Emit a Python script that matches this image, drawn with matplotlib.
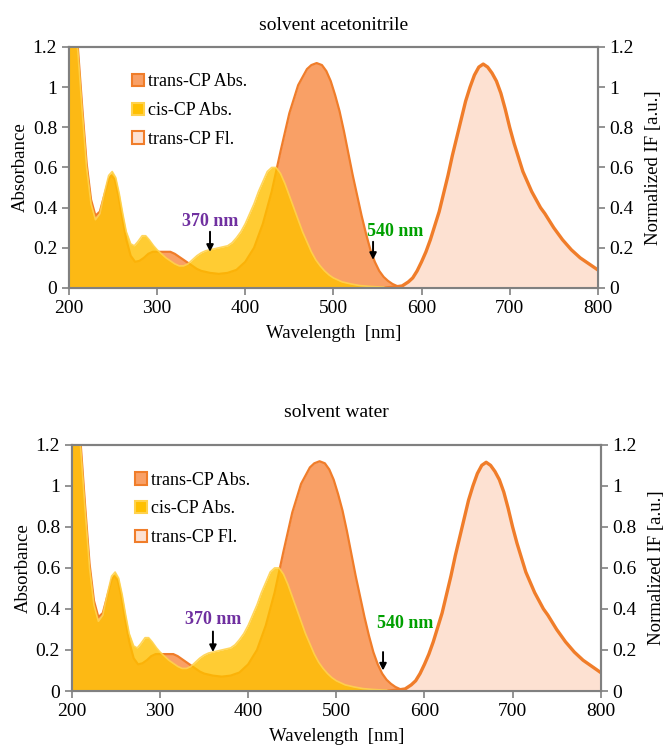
import matplotlib
matplotlib.use("Agg")
import matplotlib.pyplot as plt
from matplotlib.patches import Patch

plt.rcParams['font.family'] = ['Liberation Serif', 'DejaVu Serif']

# ---------------- data ----------------
trans_wl = [200, 205, 210, 215, 220, 225, 230, 235, 240, 245, 248, 252, 256, 260, 265,
            270, 275, 280, 285, 290, 295, 300, 305, 310, 315, 320, 325, 330, 335, 340,
            345, 350, 360, 370, 380, 390, 400, 410, 420, 430, 440, 450, 460, 470, 475,
            481, 487, 492, 497, 502, 507, 512, 517, 522, 527, 532, 537, 542, 547, 552,
            557, 562, 567, 572, 578, 600]
trans_abs = [1.6, 1.45, 1.2, 0.9, 0.62, 0.44, 0.36, 0.38, 0.46, 0.54, 0.56, 0.54, 0.46, 0.36, 0.24,
             0.16, 0.13, 0.135, 0.15, 0.17, 0.18, 0.18, 0.18, 0.18, 0.18, 0.17, 0.155, 0.14, 0.125, 0.11,
             0.095, 0.085, 0.075, 0.07, 0.075, 0.09, 0.13, 0.2, 0.32, 0.48, 0.68, 0.87, 1.01, 1.09, 1.11,
             1.12, 1.11, 1.08, 1.03, 0.96, 0.88, 0.78, 0.67, 0.56, 0.46, 0.36, 0.27, 0.19, 0.13, 0.085,
             0.055, 0.035, 0.02, 0.01, 0.005, 0.0]

cis_wl = [200, 205, 210, 215, 220, 225, 230, 235, 240, 245, 249, 253, 257, 261, 265,
          270, 274, 278, 283, 287, 291, 296, 300, 305, 310, 315, 320, 325, 330, 335,
          340, 345, 350, 355, 360, 370, 380, 385, 390, 395, 400, 405, 410, 415, 420,
          425, 430, 435, 440, 445, 450, 455, 460, 465, 470, 475, 480, 485, 490, 495,
          500, 510, 520, 530, 540, 560, 600]
cis_abs = [1.6, 1.4, 1.18, 0.88, 0.6, 0.42, 0.34, 0.37, 0.47, 0.56, 0.58, 0.55, 0.47, 0.37, 0.28,
           0.22, 0.21, 0.23, 0.26, 0.26, 0.24, 0.21, 0.19, 0.17, 0.15, 0.135, 0.12, 0.11, 0.11, 0.12,
           0.14, 0.16, 0.175, 0.185, 0.19, 0.2, 0.21, 0.225, 0.25, 0.28, 0.32, 0.37, 0.42, 0.48, 0.53,
           0.58, 0.6, 0.6, 0.57, 0.52, 0.46, 0.4, 0.34, 0.28, 0.23, 0.18, 0.14, 0.11, 0.085, 0.065,
           0.05, 0.03, 0.02, 0.012, 0.008, 0.003, 0.0]

fl_wl = [560, 570, 578, 585, 590, 595, 600, 605, 610, 615, 620, 625, 630, 635, 640,
         645, 650, 655, 660, 665, 670, 675, 680, 685, 690, 695, 700, 705, 710, 715,
         720, 725, 730, 735, 740, 750, 760, 770, 780, 790, 800]
fl_int = [0.0, 0.005, 0.01, 0.03, 0.05, 0.085, 0.13, 0.18, 0.24, 0.31, 0.38, 0.47, 0.56, 0.66, 0.75,
          0.84, 0.93, 1.0, 1.06, 1.1, 1.115, 1.1, 1.07, 1.03, 0.97, 0.89, 0.8, 0.72, 0.65, 0.58,
          0.53, 0.48, 0.44, 0.4, 0.37, 0.3, 0.24, 0.19, 0.15, 0.12, 0.09]

panels = [
    # title, title pad, axes rect, 370 arrow (x, tail, tip, text y), 540 arrow (x, tail, tip, text x, text y)
    ("solvent acetonitrile", 12, [0.1036, 0.614, 0.794, 0.323],
     (360, 0.28, 0.18, 0.33), (545, 0.23, 0.14, 538, 0.28)),
    ("solvent water", 20, [0.108, 0.0737, 0.794, 0.33],
     (360, 0.29, 0.19, 0.35), (553, 0.19, 0.10, 546, 0.33)),
]

c_trans_fill = '#F9A066'
c_trans_edge = '#F07D2A'
c_cis_fill = '#FFC000'
c_cis_edge = '#FFD24D'
c_fl_fill = '#FDE1D2'
spine_c = '#808080'

fig = plt.figure(figsize=(6.66, 7.46), dpi=100)

for title, tpad, rect, a370, a540 in panels:
    ax = fig.add_axes(rect)
    ax2 = ax.twinx()

    ax.fill_between(trans_wl, trans_abs, 0, color=c_trans_fill, lw=0, zorder=1)
    ax.plot(trans_wl, trans_abs, color=c_trans_edge, lw=1.6, zorder=2)
    ax.fill_between(cis_wl, cis_abs, 0, color=c_cis_fill, alpha=0.8, lw=0, zorder=3)
    ax.plot(cis_wl, cis_abs, color=c_cis_edge, lw=1.2, alpha=0.9, zorder=4)

    ax2.fill_between(fl_wl, fl_int, 0, color=c_fl_fill, lw=0, zorder=1)
    ax2.plot(fl_wl, fl_int, color=c_trans_edge, lw=2.4, zorder=2)

    for a in (ax, ax2):
        a.set_xlim(200, 800)
        a.set_ylim(0, 1.2)
        for s in a.spines.values():
            s.set_color(spine_c)
            s.set_linewidth(1.5)
        a.tick_params(direction='out', length=5, width=1.2, color=spine_c,
                      labelsize=14, labelcolor='black')

    ax.set_xticks([200, 300, 400, 500, 600, 700, 800])
    ax.set_yticks([0, 0.2, 0.4, 0.6, 0.8, 1.0, 1.2])
    ax.set_yticklabels(['0', '0.2', '0.4', '0.6', '0.8', '1', '1.2'])
    ax2.set_yticks([0, 0.2, 0.4, 0.6, 0.8, 1.0, 1.2])
    ax2.set_yticklabels(['0', '0.2', '0.4', '0.6', '0.8', '1', '1.2'])

    ax.set_xlabel('Wavelength  [nm]', fontsize=13.5, labelpad=6)
    ax.set_ylabel('Absorbance', fontsize=13.5, labelpad=3)
    ax2.set_ylabel('Normalized IF [a.u.]', fontsize=13.5, labelpad=8)
    ax.set_title(title, fontsize=14, pad=tpad)

    arrow_style = dict(arrowstyle='-|>', color='black', lw=1.4, mutation_scale=10,
                       shrinkA=0, shrinkB=0)
    # 370 nm marker
    x, tail, tip, ty = a370
    ax2.annotate('', xy=(x, tip), xytext=(x, tail), arrowprops=arrow_style)
    ax2.text(x, ty, '370 nm', color='#7030A0', fontsize=13, fontweight='bold',
             ha='center', va='center')
    # 540 nm marker
    x, tail, tip, tx, ty = a540
    ax2.annotate('', xy=(x, tip), xytext=(x, tail), arrowprops=arrow_style)
    ax2.text(tx, ty, '540 nm', color='#00A000', fontsize=13, fontweight='bold',
             ha='left', va='center')

    handles = [Patch(facecolor=c_trans_fill, edgecolor=c_trans_edge, lw=1.5),
               Patch(facecolor=c_cis_fill, edgecolor=c_cis_edge, lw=1.5),
               Patch(facecolor=c_fl_fill, edgecolor=c_trans_edge, lw=1.5)]
    names = ['trans-CP Abs.', 'cis-CP Abs.', 'trans-CP Fl.']
    ax2.legend(handles, names, loc='upper left', bbox_to_anchor=(0.105, 0.92),
               frameon=False, fontsize=13, handlelength=0.7, handleheight=0.7,
               handletextpad=0.2, labelspacing=0.65, borderaxespad=0)

fig.savefig('out.png', dpi=100)
